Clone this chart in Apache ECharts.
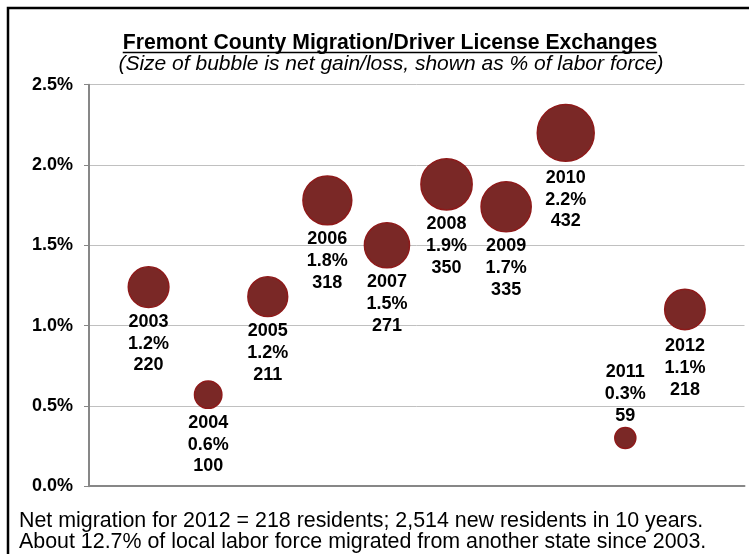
<!DOCTYPE html>
<html>
<head>
<meta charset="utf-8">
<script src="https://cdn.jsdelivr.net/npm/echarts@6/dist/echarts.min.js"></script>
<style>html,body{margin:0;padding:0;background:#fff}#c{width:749px;height:554px}</style>
</head>
<body>
<div id="c"></div>
<script>
// ---- data ----
const years = ['2003','2004','2005','2006','2007','2008','2009','2010','2011','2012'];
const laborPct = [1.24, 0.57, 1.18, 1.78, 1.50, 1.88, 1.74, 2.20, 0.30, 1.10];
const netResidents = [220, 100, 211, 318, 271, 350, 335, 432, 59, 218];
const yTicks = [0.0, 0.5, 1.0, 1.5, 2.0, 2.5];
const titleText = 'Fremont County Migration/Driver License Exchanges';
const subtitleText = '(Size of bubble is net gain/loss, shown as % of labor force)';
const footerLines = [
  'Net migration for 2012 = 218 residents; 2,514 new residents in 10 years.',
  'About 12.7% of local labor force migrated from another state since 2003.'
];

const FONT = "'Liberation Sans', Arial, sans-serif";
const labelPlacement = {'2011': {position: 'top', distance: 0}, '2010': {position: 'bottom', distance: 5}, '2012': {position: 'bottom', distance: 5}};

const data = years.map((y, i) => {
  const p = labelPlacement[y] || {position: 'bottom', distance: 3};
  return {
    value: [i + 1, laborPct[i], netResidents[i], y],
    label: {position: p.position, distance: p.distance}
  };
});

function textWidth(t, font) {
  const cv = document.createElement('canvas').getContext('2d');
  cv.font = font;
  return cv.measureText(t).width;
}
const titleFontSize = 21.2;
const titleCx = 390;
const tW = textWidth(titleText, 'bold ' + titleFontSize + 'px ' + FONT);

const chart = echarts.init(document.getElementById('c'), null, {renderer: 'canvas'});
chart.setOption({
  backgroundColor: '#ffffff',
  animation: false,
  grid: {left: 89, right: 4.5, top: 84.7, bottom: 67.8, containLabel: false},
  xAxis: {
    type: 'value', min: 0, max: 11,
    axisLine: {show: true, onZero: false, lineStyle: {color: '#878787', width: 2}},
    axisTick: {show: false}, axisLabel: {show: false}, splitLine: {show: false}
  },
  yAxis: {
    type: 'value', min: yTicks[0], max: yTicks[yTicks.length - 1], interval: 0.5,
    axisLine: {show: true, lineStyle: {color: '#878787', width: 2}},
    axisTick: {show: true, length: 5, lineStyle: {color: '#878787', width: 1}},
    axisLabel: {margin: 16, color: '#000', fontWeight: 'bold', fontSize: 18, fontFamily: FONT,
      formatter: v => v.toFixed(1) + '%'},
    splitLine: {show: true, lineStyle: {color: '#c0c0c0', width: 1}}
  },
  series: [{
    type: 'scatter',
    data: data,
    symbol: 'circle',
    symbolSize: v => Math.sqrt(v[2]) * 2.74,
    itemStyle: {color: '#7A2826', borderColor: '#8E1A1A', borderWidth: 1.5, opacity: 1},
    label: {
      show: true, color: '#000', fontWeight: 'bold', fontSize: 18, fontFamily: FONT,
      lineHeight: 21.7, align: 'center',
      formatter: p => p.value[3] + '\n' + p.value[1].toFixed(1) + '%\n' + p.value[2]
    },
    emphasis: {disabled: true}
  }],
  graphic: [
    {type: 'polyline', shape: {points: [[8, 554], [8, 8], [749, 8]]}, style: {stroke: '#000', lineWidth: 2.5, fill: null}},
    {type: 'text', x: titleCx, y: 43, style: {text: titleText, font: 'bold ' + titleFontSize + 'px ' + FONT, fill: '#000', align: 'center', verticalAlign: 'middle'}},
    {type: 'line', shape: {x1: titleCx - tW / 2, y1: 52.5, x2: titleCx + tW / 2, y2: 52.5}, style: {stroke: '#000', lineWidth: 1.5}},
    {type: 'text', x: titleCx + 1, y: 64, style: {text: subtitleText, font: 'italic 21px ' + FONT, fill: '#000', align: 'center', verticalAlign: 'middle'}},
    {type: 'text', x: 19, y: 521, style: {text: footerLines[0], font: '21.4px ' + FONT, fill: '#000', align: 'left', verticalAlign: 'middle'}},
    {type: 'text', x: 19, y: 542, style: {text: footerLines[1], font: '21.4px ' + FONT, fill: '#000', align: 'left', verticalAlign: 'middle'}}
  ]
});
</script>
</body>
</html>
